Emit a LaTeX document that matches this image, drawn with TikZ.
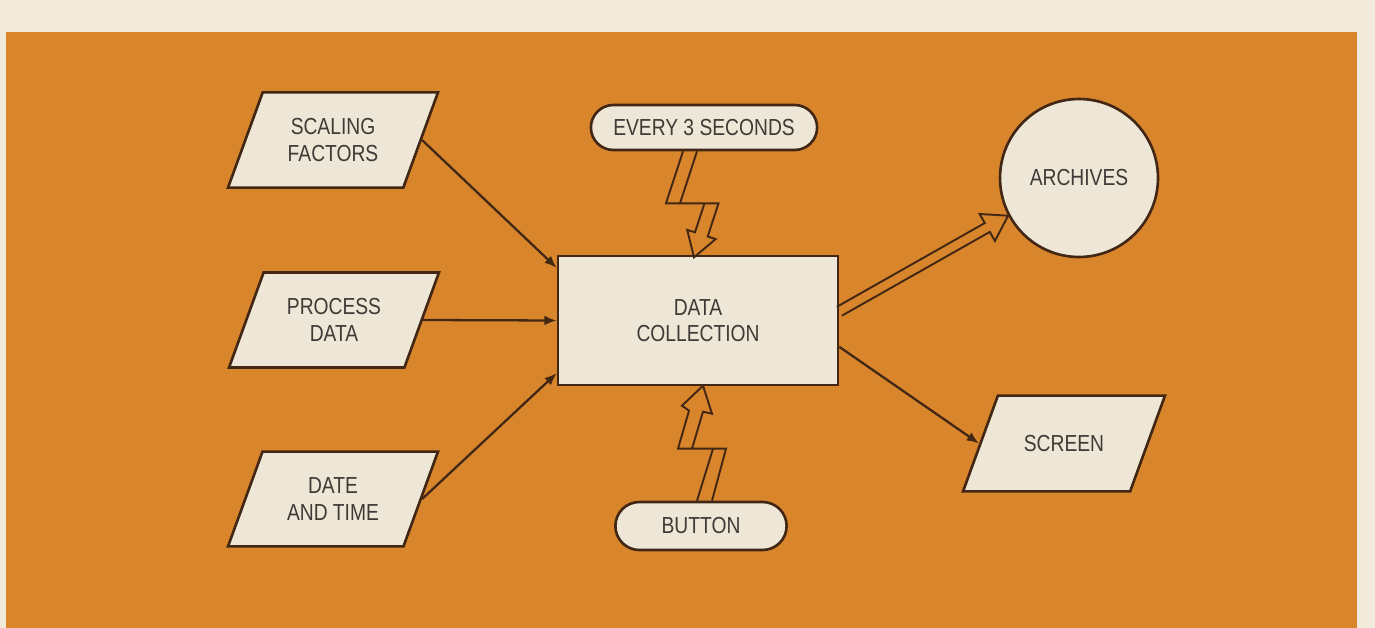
\documentclass[tikz,border=0pt]{standalone}
\usepackage{fontspec}
\setmainfont{Liberation Sans}[FakeStretch=0.83]
\usetikzlibrary{shapes.geometric,shapes.misc,arrows.meta,calc}
\definecolor{page}{RGB}{242,234,218}
\definecolor{bgorange}{RGB}{217,133,44}
\definecolor{paper}{RGB}{238,231,215}
\definecolor{edge}{RGB}{66,40,20}
\definecolor{ink}{RGB}{62,58,54}
\begin{document}
\begin{tikzpicture}[x=0.02cm,y=-0.02cm,
    font=\fontsize{13.2}{15.1}\selectfont,
    every node/.style={text=ink, align=center},
    inout/.style={trapezium, trapezium left angle=70, trapezium right angle=110,
      trapezium stretches body, draw=edge, fill=paper, line width=1.5pt,
      minimum width=4.2cm, inner ysep=14.9pt},
    procbox/.style={rectangle, draw=edge, fill=paper, line width=1.5pt,
      minimum width=5.6cm, minimum height=2.58cm},
    event/.style={rounded rectangle, draw=edge, fill=paper, line width=1.5pt},
    store/.style={circle, draw=edge, fill=paper, line width=1.5pt, minimum size=3.16cm},
    flow/.style={draw=edge, line width=1.3pt, -{Latex[length=7pt,width=5.5pt]}},
    bolt/.style={draw=edge, line width=1.1pt, line join=miter}]

    \useasboundingbox (0,0) rectangle (1375,628);
    \fill[page] (0,0) rectangle (1375,628);
    \fill[bgorange] (6,32) rectangle (1357,628);

    % inputs
    \node[inout] (scaling) at (333,140) {SCALING\\FACTORS};
    \node[inout] (process) at (334,320) {PROCESS\\DATA};
    \node[inout] (date) at (333,499) {DATE\\AND TIME};

    \node[procbox] (collect) at (698,320.5) {DATA\\COLLECTION};
    \node[event, minimum width=4.76cm, minimum height=0.9cm] (every) at (704,127.5) {EVERY 3 SECONDS};
    \node[event, minimum width=3.66cm, minimum height=0.96cm] (button) at (701,526) {BUTTON};

    % outputs
    \node[store] (archives) at (1079,178) {ARCHIVES};
    \node[inout, minimum width=4.04cm, inner ysep=22.6pt] (screen) at (1064,443.5) {SCREEN};

    \coordinate (in1) at ($(collect.north west)!0.1!(collect.south west)$);
    \coordinate (in3) at ($(collect.north west)!0.9!(collect.south west)$);
    \coordinate (out1) at ($(collect.north east)!0.43!(collect.south east)$);
    \coordinate (out2) at ($(collect.north east)!0.7!(collect.south east)$);

    \draw[flow] (scaling.east) -- (in1);
    \draw[flow] (process.east) -- (collect.west);
    \draw[flow] (date.east) -- (in3);
    \draw[flow] (out2) -- (screen.west);

    % hollow arrow to the archives
    \coordinate (atip) at (archives.208);
    \coordinate (abase) at ($(atip)!13.6pt!(out1)$);
    \draw[bolt] ($(out1)!2.9pt!90:(atip)$) -- ($(abase)!2.9pt!-90:(out1)$)
      -- ($(abase)!8.8pt!-90:(out1)$) -- (atip) -- ($(abase)!8.8pt!90:(out1)$)
      -- ($(abase)!2.9pt!90:(out1)$) -- ($(out1)!2.9pt!-90:(atip)$);

    % lightning from the timer
    \begin{scope}[shift={(every.south)}]
      \draw[bolt] (-21,0) -- (-38,52) -- (14.5,52) -- (3.7,85.2) -- (11.6,87.8)
        -- (-10,106) -- (-16.8,78.6) -- (-9,81) -- (0.5,52);
      \draw[bolt] (-7,0) -- (-24,52);
    \end{scope}

    % lightning from the button
    \begin{scope}[shift={(button.north)}]
      \draw[bolt] (-4,0) -- (12,-52);
      \draw[bolt] (11,0) -- (25,-52) -- (-23,-52) -- (-12,-90) -- (-19,-95)
        -- (2,-115) -- (11,-87) -- (2,-89) -- (-9,-52);
    \end{scope}
\end{tikzpicture}
\end{document}
